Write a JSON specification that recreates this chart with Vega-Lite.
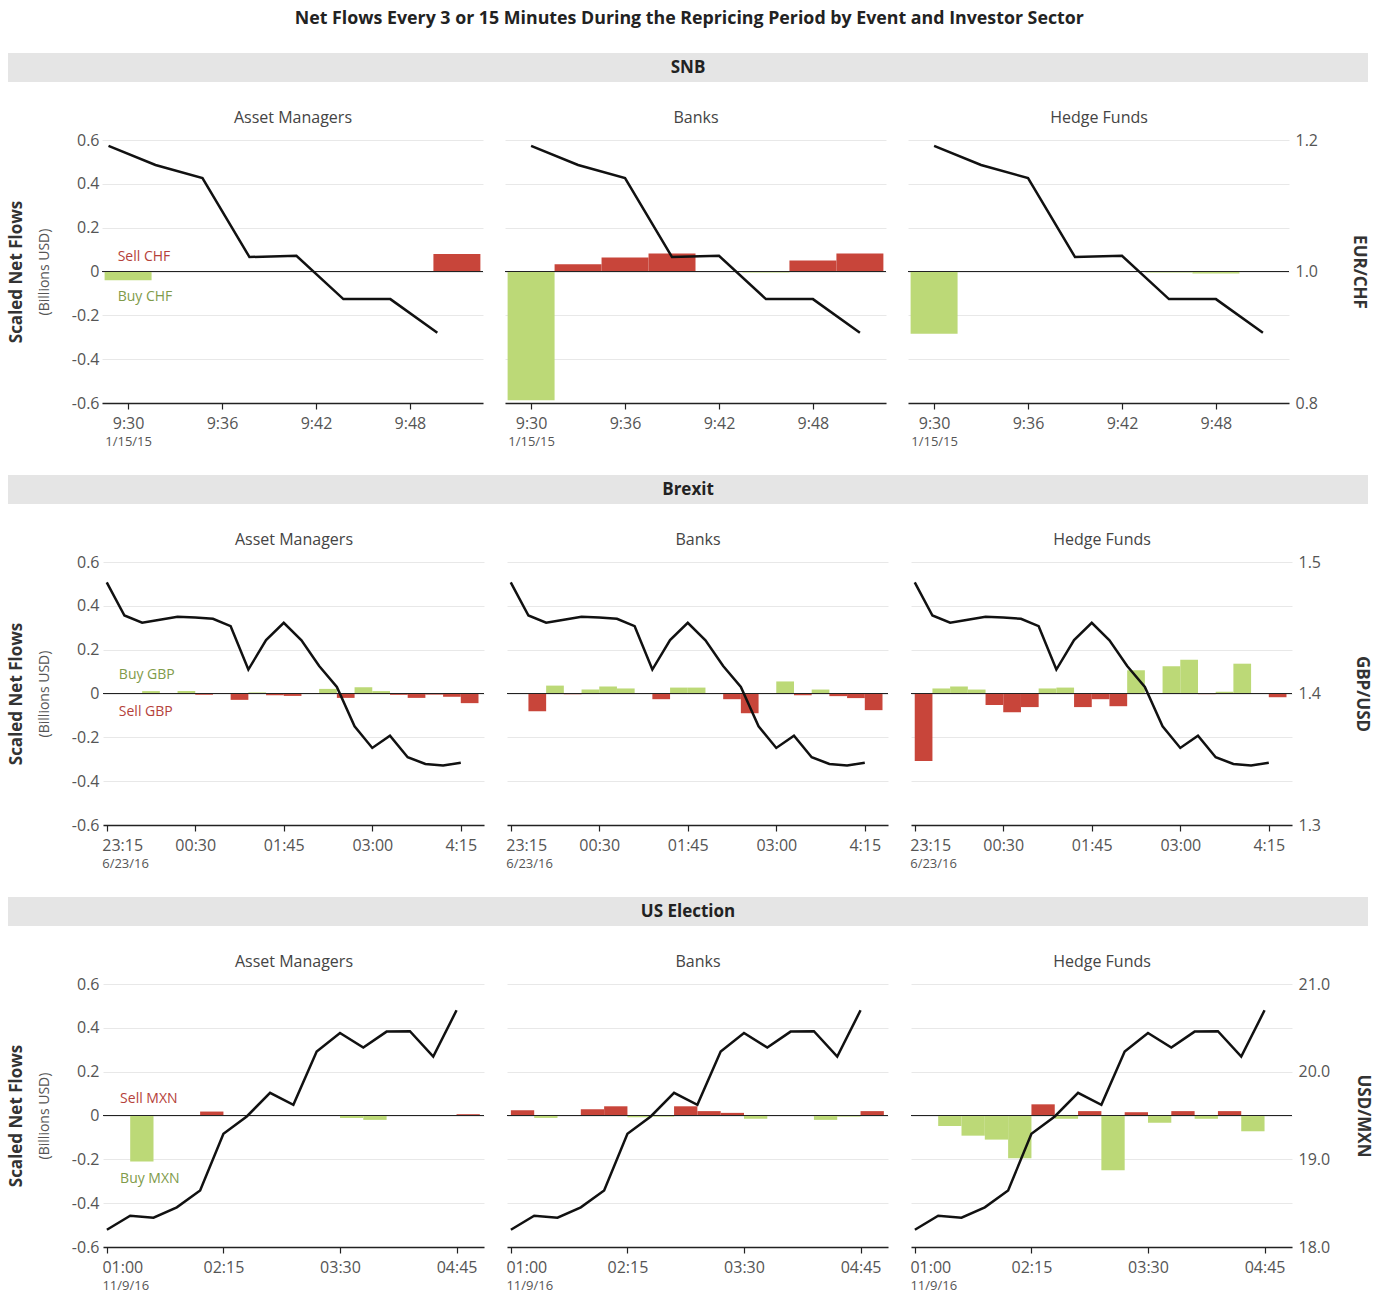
{
  "$schema": "https://vega.github.io/schema/vega-lite/v6.json",
  "padding": {"left": 7, "right": 17, "top": 10, "bottom": 0},
  "background": "white",
  "title": {"text": "Net Flows Every 3 or 15 Minutes During the Repricing Period by Event and Investor Sector", "fontSize": 17.8, "fontWeight": "bold", "color": "#222", "anchor": "middle", "baseline": "alphabetic", "offset": 11},
  "config": {
    "font": "Open Sans",
    "view": {"stroke": null},
    "axis": {"labelFont": "Open Sans", "titleFont": "Open Sans"},
    "title": {"font": "Open Sans"},
    "text": {"font": "Open Sans"}
  },
  "datasets": {
    "bars": [
      {"e": "SNB", "s": "Asset Managers", "t": "2015-01-15T09:28:30", "t2": "2015-01-15T09:31:30", "v": -0.04, "d": "Buy"},
      {"e": "SNB", "s": "Asset Managers", "t": "2015-01-15T09:49:30", "t2": "2015-01-15T09:52:30", "v": 0.08, "d": "Sell"},
      {"e": "SNB", "s": "Banks", "t": "2015-01-15T09:28:30", "t2": "2015-01-15T09:31:30", "v": -0.587, "d": "Buy"},
      {"e": "SNB", "s": "Banks", "t": "2015-01-15T09:31:30", "t2": "2015-01-15T09:34:30", "v": 0.033, "d": "Sell"},
      {"e": "SNB", "s": "Banks", "t": "2015-01-15T09:34:30", "t2": "2015-01-15T09:37:30", "v": 0.064, "d": "Sell"},
      {"e": "SNB", "s": "Banks", "t": "2015-01-15T09:37:30", "t2": "2015-01-15T09:40:30", "v": 0.082, "d": "Sell"},
      {"e": "SNB", "s": "Banks", "t": "2015-01-15T09:43:30", "t2": "2015-01-15T09:46:30", "v": -0.005, "d": "Buy"},
      {"e": "SNB", "s": "Banks", "t": "2015-01-15T09:46:30", "t2": "2015-01-15T09:49:30", "v": 0.05, "d": "Sell"},
      {"e": "SNB", "s": "Banks", "t": "2015-01-15T09:49:30", "t2": "2015-01-15T09:52:30", "v": 0.082, "d": "Sell"},
      {"e": "SNB", "s": "Hedge Funds", "t": "2015-01-15T09:28:30", "t2": "2015-01-15T09:31:30", "v": -0.284, "d": "Buy"},
      {"e": "SNB", "s": "Hedge Funds", "t": "2015-01-15T09:43:30", "t2": "2015-01-15T09:46:30", "v": -0.004, "d": "Buy"},
      {"e": "SNB", "s": "Hedge Funds", "t": "2015-01-15T09:46:30", "t2": "2015-01-15T09:49:30", "v": -0.009, "d": "Buy"},

      {"e": "Brexit", "s": "Asset Managers", "t": "2016-06-23T23:45:00", "t2": "2016-06-24T00:00:00", "v": 0.011, "d": "Buy"},
      {"e": "Brexit", "s": "Asset Managers", "t": "2016-06-24T00:15:00", "t2": "2016-06-24T00:30:00", "v": 0.011, "d": "Buy"},
      {"e": "Brexit", "s": "Asset Managers", "t": "2016-06-24T00:30:00", "t2": "2016-06-24T00:45:00", "v": -0.006, "d": "Sell"},
      {"e": "Brexit", "s": "Asset Managers", "t": "2016-06-24T01:00:00", "t2": "2016-06-24T01:15:00", "v": -0.029, "d": "Sell"},
      {"e": "Brexit", "s": "Asset Managers", "t": "2016-06-24T01:15:00", "t2": "2016-06-24T01:30:00", "v": 0.005, "d": "Buy"},
      {"e": "Brexit", "s": "Asset Managers", "t": "2016-06-24T01:30:00", "t2": "2016-06-24T01:45:00", "v": -0.008, "d": "Sell"},
      {"e": "Brexit", "s": "Asset Managers", "t": "2016-06-24T01:45:00", "t2": "2016-06-24T02:00:00", "v": -0.011, "d": "Sell"},
      {"e": "Brexit", "s": "Asset Managers", "t": "2016-06-24T02:15:00", "t2": "2016-06-24T02:30:00", "v": 0.021, "d": "Buy"},
      {"e": "Brexit", "s": "Asset Managers", "t": "2016-06-24T02:30:00", "t2": "2016-06-24T02:45:00", "v": -0.02, "d": "Sell"},
      {"e": "Brexit", "s": "Asset Managers", "t": "2016-06-24T02:45:00", "t2": "2016-06-24T03:00:00", "v": 0.029, "d": "Buy"},
      {"e": "Brexit", "s": "Asset Managers", "t": "2016-06-24T03:00:00", "t2": "2016-06-24T03:15:00", "v": 0.011, "d": "Buy"},
      {"e": "Brexit", "s": "Asset Managers", "t": "2016-06-24T03:15:00", "t2": "2016-06-24T03:30:00", "v": -0.006, "d": "Sell"},
      {"e": "Brexit", "s": "Asset Managers", "t": "2016-06-24T03:30:00", "t2": "2016-06-24T03:45:00", "v": -0.02, "d": "Sell"},
      {"e": "Brexit", "s": "Asset Managers", "t": "2016-06-24T03:45:00", "t2": "2016-06-24T04:00:00", "v": -0.005, "d": "Sell"},
      {"e": "Brexit", "s": "Asset Managers", "t": "2016-06-24T04:00:00", "t2": "2016-06-24T04:15:00", "v": -0.015, "d": "Sell"},
      {"e": "Brexit", "s": "Asset Managers", "t": "2016-06-24T04:15:00", "t2": "2016-06-24T04:30:00", "v": -0.044, "d": "Sell"},

      {"e": "Brexit", "s": "Banks", "t": "2016-06-23T23:30:00", "t2": "2016-06-23T23:45:00", "v": -0.081, "d": "Sell"},
      {"e": "Brexit", "s": "Banks", "t": "2016-06-23T23:45:00", "t2": "2016-06-24T00:00:00", "v": 0.036, "d": "Buy"},
      {"e": "Brexit", "s": "Banks", "t": "2016-06-24T00:00:00", "t2": "2016-06-24T00:15:00", "v": -0.003, "d": "Sell"},
      {"e": "Brexit", "s": "Banks", "t": "2016-06-24T00:15:00", "t2": "2016-06-24T00:30:00", "v": 0.018, "d": "Buy"},
      {"e": "Brexit", "s": "Banks", "t": "2016-06-24T00:30:00", "t2": "2016-06-24T00:45:00", "v": 0.032, "d": "Buy"},
      {"e": "Brexit", "s": "Banks", "t": "2016-06-24T00:45:00", "t2": "2016-06-24T01:00:00", "v": 0.023, "d": "Buy"},
      {"e": "Brexit", "s": "Banks", "t": "2016-06-24T01:15:00", "t2": "2016-06-24T01:30:00", "v": -0.026, "d": "Sell"},
      {"e": "Brexit", "s": "Banks", "t": "2016-06-24T01:30:00", "t2": "2016-06-24T01:45:00", "v": 0.027, "d": "Buy"},
      {"e": "Brexit", "s": "Banks", "t": "2016-06-24T01:45:00", "t2": "2016-06-24T02:00:00", "v": 0.027, "d": "Buy"},
      {"e": "Brexit", "s": "Banks", "t": "2016-06-24T02:15:00", "t2": "2016-06-24T02:30:00", "v": -0.026, "d": "Sell"},
      {"e": "Brexit", "s": "Banks", "t": "2016-06-24T02:30:00", "t2": "2016-06-24T02:45:00", "v": -0.09, "d": "Sell"},
      {"e": "Brexit", "s": "Banks", "t": "2016-06-24T03:00:00", "t2": "2016-06-24T03:15:00", "v": 0.055, "d": "Buy"},
      {"e": "Brexit", "s": "Banks", "t": "2016-06-24T03:15:00", "t2": "2016-06-24T03:30:00", "v": -0.008, "d": "Sell"},
      {"e": "Brexit", "s": "Banks", "t": "2016-06-24T03:30:00", "t2": "2016-06-24T03:45:00", "v": 0.018, "d": "Buy"},
      {"e": "Brexit", "s": "Banks", "t": "2016-06-24T03:45:00", "t2": "2016-06-24T04:00:00", "v": -0.012, "d": "Sell"},
      {"e": "Brexit", "s": "Banks", "t": "2016-06-24T04:00:00", "t2": "2016-06-24T04:15:00", "v": -0.021, "d": "Sell"},
      {"e": "Brexit", "s": "Banks", "t": "2016-06-24T04:15:00", "t2": "2016-06-24T04:30:00", "v": -0.076, "d": "Sell"},

      {"e": "Brexit", "s": "Hedge Funds", "t": "2016-06-23T23:15:00", "t2": "2016-06-23T23:30:00", "v": -0.308, "d": "Sell"},
      {"e": "Brexit", "s": "Hedge Funds", "t": "2016-06-23T23:30:00", "t2": "2016-06-23T23:45:00", "v": 0.023, "d": "Buy"},
      {"e": "Brexit", "s": "Hedge Funds", "t": "2016-06-23T23:45:00", "t2": "2016-06-24T00:00:00", "v": 0.032, "d": "Buy"},
      {"e": "Brexit", "s": "Hedge Funds", "t": "2016-06-24T00:00:00", "t2": "2016-06-24T00:15:00", "v": 0.018, "d": "Buy"},
      {"e": "Brexit", "s": "Hedge Funds", "t": "2016-06-24T00:15:00", "t2": "2016-06-24T00:30:00", "v": -0.053, "d": "Sell"},
      {"e": "Brexit", "s": "Hedge Funds", "t": "2016-06-24T00:30:00", "t2": "2016-06-24T00:45:00", "v": -0.085, "d": "Sell"},
      {"e": "Brexit", "s": "Hedge Funds", "t": "2016-06-24T00:45:00", "t2": "2016-06-24T01:00:00", "v": -0.062, "d": "Sell"},
      {"e": "Brexit", "s": "Hedge Funds", "t": "2016-06-24T01:00:00", "t2": "2016-06-24T01:15:00", "v": 0.023, "d": "Buy"},
      {"e": "Brexit", "s": "Hedge Funds", "t": "2016-06-24T01:15:00", "t2": "2016-06-24T01:30:00", "v": 0.027, "d": "Buy"},
      {"e": "Brexit", "s": "Hedge Funds", "t": "2016-06-24T01:30:00", "t2": "2016-06-24T01:45:00", "v": -0.062, "d": "Sell"},
      {"e": "Brexit", "s": "Hedge Funds", "t": "2016-06-24T01:45:00", "t2": "2016-06-24T02:00:00", "v": -0.026, "d": "Sell"},
      {"e": "Brexit", "s": "Hedge Funds", "t": "2016-06-24T02:00:00", "t2": "2016-06-24T02:15:00", "v": -0.058, "d": "Sell"},
      {"e": "Brexit", "s": "Hedge Funds", "t": "2016-06-24T02:15:00", "t2": "2016-06-24T02:30:00", "v": 0.106, "d": "Buy"},
      {"e": "Brexit", "s": "Hedge Funds", "t": "2016-06-24T02:45:00", "t2": "2016-06-24T03:00:00", "v": 0.124, "d": "Buy"},
      {"e": "Brexit", "s": "Hedge Funds", "t": "2016-06-24T03:00:00", "t2": "2016-06-24T03:15:00", "v": 0.154, "d": "Buy"},
      {"e": "Brexit", "s": "Hedge Funds", "t": "2016-06-24T03:15:00", "t2": "2016-06-24T03:30:00", "v": -0.003, "d": "Sell"},
      {"e": "Brexit", "s": "Hedge Funds", "t": "2016-06-24T03:30:00", "t2": "2016-06-24T03:45:00", "v": 0.008, "d": "Buy"},
      {"e": "Brexit", "s": "Hedge Funds", "t": "2016-06-24T03:45:00", "t2": "2016-06-24T04:00:00", "v": 0.136, "d": "Buy"},
      {"e": "Brexit", "s": "Hedge Funds", "t": "2016-06-24T04:15:00", "t2": "2016-06-24T04:30:00", "v": -0.017, "d": "Sell"},

      {"e": "US", "s": "Asset Managers", "t": "2016-11-09T01:15:00", "t2": "2016-11-09T01:30:00", "v": -0.21, "d": "Buy"},
      {"e": "US", "s": "Asset Managers", "t": "2016-11-09T02:00:00", "t2": "2016-11-09T02:15:00", "v": 0.018, "d": "Sell"},
      {"e": "US", "s": "Asset Managers", "t": "2016-11-09T03:30:00", "t2": "2016-11-09T03:45:00", "v": -0.011, "d": "Buy"},
      {"e": "US", "s": "Asset Managers", "t": "2016-11-09T03:45:00", "t2": "2016-11-09T04:00:00", "v": -0.02, "d": "Buy"},
      {"e": "US", "s": "Asset Managers", "t": "2016-11-09T04:45:00", "t2": "2016-11-09T05:00:00", "v": 0.006, "d": "Sell"},

      {"e": "US", "s": "Banks", "t": "2016-11-09T01:00:00", "t2": "2016-11-09T01:15:00", "v": 0.024, "d": "Sell"},
      {"e": "US", "s": "Banks", "t": "2016-11-09T01:15:00", "t2": "2016-11-09T01:30:00", "v": -0.011, "d": "Buy"},
      {"e": "US", "s": "Banks", "t": "2016-11-09T01:45:00", "t2": "2016-11-09T02:00:00", "v": 0.029, "d": "Sell"},
      {"e": "US", "s": "Banks", "t": "2016-11-09T02:00:00", "t2": "2016-11-09T02:15:00", "v": 0.042, "d": "Sell"},
      {"e": "US", "s": "Banks", "t": "2016-11-09T02:15:00", "t2": "2016-11-09T02:30:00", "v": -0.008, "d": "Buy"},
      {"e": "US", "s": "Banks", "t": "2016-11-09T02:30:00", "t2": "2016-11-09T02:45:00", "v": -0.005, "d": "Buy"},
      {"e": "US", "s": "Banks", "t": "2016-11-09T02:45:00", "t2": "2016-11-09T03:00:00", "v": 0.042, "d": "Sell"},
      {"e": "US", "s": "Banks", "t": "2016-11-09T03:00:00", "t2": "2016-11-09T03:15:00", "v": 0.02, "d": "Sell"},
      {"e": "US", "s": "Banks", "t": "2016-11-09T03:15:00", "t2": "2016-11-09T03:30:00", "v": 0.012, "d": "Sell"},
      {"e": "US", "s": "Banks", "t": "2016-11-09T03:30:00", "t2": "2016-11-09T03:45:00", "v": -0.015, "d": "Buy"},
      {"e": "US", "s": "Banks", "t": "2016-11-09T04:15:00", "t2": "2016-11-09T04:30:00", "v": -0.02, "d": "Buy"},
      {"e": "US", "s": "Banks", "t": "2016-11-09T04:30:00", "t2": "2016-11-09T04:45:00", "v": -0.005, "d": "Buy"},
      {"e": "US", "s": "Banks", "t": "2016-11-09T04:45:00", "t2": "2016-11-09T05:00:00", "v": 0.02, "d": "Sell"},

      {"e": "US", "s": "Hedge Funds", "t": "2016-11-09T01:15:00", "t2": "2016-11-09T01:30:00", "v": -0.048, "d": "Buy"},
      {"e": "US", "s": "Hedge Funds", "t": "2016-11-09T01:30:00", "t2": "2016-11-09T01:45:00", "v": -0.092, "d": "Buy"},
      {"e": "US", "s": "Hedge Funds", "t": "2016-11-09T01:45:00", "t2": "2016-11-09T02:00:00", "v": -0.11, "d": "Buy"},
      {"e": "US", "s": "Hedge Funds", "t": "2016-11-09T02:00:00", "t2": "2016-11-09T02:15:00", "v": -0.195, "d": "Buy"},
      {"e": "US", "s": "Hedge Funds", "t": "2016-11-09T02:15:00", "t2": "2016-11-09T02:30:00", "v": 0.051, "d": "Sell"},
      {"e": "US", "s": "Hedge Funds", "t": "2016-11-09T02:30:00", "t2": "2016-11-09T02:45:00", "v": -0.015, "d": "Buy"},
      {"e": "US", "s": "Hedge Funds", "t": "2016-11-09T02:45:00", "t2": "2016-11-09T03:00:00", "v": 0.02, "d": "Sell"},
      {"e": "US", "s": "Hedge Funds", "t": "2016-11-09T03:00:00", "t2": "2016-11-09T03:15:00", "v": -0.25, "d": "Buy"},
      {"e": "US", "s": "Hedge Funds", "t": "2016-11-09T03:15:00", "t2": "2016-11-09T03:30:00", "v": 0.015, "d": "Sell"},
      {"e": "US", "s": "Hedge Funds", "t": "2016-11-09T03:30:00", "t2": "2016-11-09T03:45:00", "v": -0.033, "d": "Buy"},
      {"e": "US", "s": "Hedge Funds", "t": "2016-11-09T03:45:00", "t2": "2016-11-09T04:00:00", "v": 0.02, "d": "Sell"},
      {"e": "US", "s": "Hedge Funds", "t": "2016-11-09T04:00:00", "t2": "2016-11-09T04:15:00", "v": -0.015, "d": "Buy"},
      {"e": "US", "s": "Hedge Funds", "t": "2016-11-09T04:15:00", "t2": "2016-11-09T04:30:00", "v": 0.02, "d": "Sell"},
      {"e": "US", "s": "Hedge Funds", "t": "2016-11-09T04:30:00", "t2": "2016-11-09T04:45:00", "v": -0.072, "d": "Buy"}
    ],
    "rates": [
      {"e": "SNB", "s": "Asset Managers", "t": "2015-01-15T09:28:45", "r": 1.191},
      {"e": "SNB", "s": "Asset Managers", "t": "2015-01-15T09:31:45", "r": 1.162},
      {"e": "SNB", "s": "Asset Managers", "t": "2015-01-15T09:34:45", "r": 1.142},
      {"e": "SNB", "s": "Asset Managers", "t": "2015-01-15T09:37:45", "r": 1.022},
      {"e": "SNB", "s": "Asset Managers", "t": "2015-01-15T09:40:45", "r": 1.024},
      {"e": "SNB", "s": "Asset Managers", "t": "2015-01-15T09:43:45", "r": 0.958},
      {"e": "SNB", "s": "Asset Managers", "t": "2015-01-15T09:46:45", "r": 0.958},
      {"e": "SNB", "s": "Asset Managers", "t": "2015-01-15T09:49:45", "r": 0.907},
      {"e": "SNB", "s": "Banks", "t": "2015-01-15T09:30:00", "r": 1.191},
      {"e": "SNB", "s": "Banks", "t": "2015-01-15T09:33:00", "r": 1.162},
      {"e": "SNB", "s": "Banks", "t": "2015-01-15T09:36:00", "r": 1.142},
      {"e": "SNB", "s": "Banks", "t": "2015-01-15T09:39:00", "r": 1.022},
      {"e": "SNB", "s": "Banks", "t": "2015-01-15T09:42:00", "r": 1.024},
      {"e": "SNB", "s": "Banks", "t": "2015-01-15T09:45:00", "r": 0.958},
      {"e": "SNB", "s": "Banks", "t": "2015-01-15T09:48:00", "r": 0.958},
      {"e": "SNB", "s": "Banks", "t": "2015-01-15T09:51:00", "r": 0.907},
      {"e": "SNB", "s": "Hedge Funds", "t": "2015-01-15T09:30:00", "r": 1.191},
      {"e": "SNB", "s": "Hedge Funds", "t": "2015-01-15T09:33:00", "r": 1.162},
      {"e": "SNB", "s": "Hedge Funds", "t": "2015-01-15T09:36:00", "r": 1.142},
      {"e": "SNB", "s": "Hedge Funds", "t": "2015-01-15T09:39:00", "r": 1.022},
      {"e": "SNB", "s": "Hedge Funds", "t": "2015-01-15T09:42:00", "r": 1.024},
      {"e": "SNB", "s": "Hedge Funds", "t": "2015-01-15T09:45:00", "r": 0.958},
      {"e": "SNB", "s": "Hedge Funds", "t": "2015-01-15T09:48:00", "r": 0.958},
      {"e": "SNB", "s": "Hedge Funds", "t": "2015-01-15T09:51:00", "r": 0.907},
      {"e": "Brexit", "s": "All", "t": "2016-06-23T23:15:00", "r": 1.4845},
      {"e": "Brexit", "s": "All", "t": "2016-06-23T23:30:00", "r": 1.4593},
      {"e": "Brexit", "s": "All", "t": "2016-06-23T23:45:00", "r": 1.4538},
      {"e": "Brexit", "s": "All", "t": "2016-06-24T00:00:00", "r": 1.4561},
      {"e": "Brexit", "s": "All", "t": "2016-06-24T00:15:00", "r": 1.4583},
      {"e": "Brexit", "s": "All", "t": "2016-06-24T00:30:00", "r": 1.4578},
      {"e": "Brexit", "s": "All", "t": "2016-06-24T00:45:00", "r": 1.4568},
      {"e": "Brexit", "s": "All", "t": "2016-06-24T01:00:00", "r": 1.4512},
      {"e": "Brexit", "s": "All", "t": "2016-06-24T01:15:00", "r": 1.4182},
      {"e": "Brexit", "s": "All", "t": "2016-06-24T01:30:00", "r": 1.4406},
      {"e": "Brexit", "s": "All", "t": "2016-06-24T01:45:00", "r": 1.4538},
      {"e": "Brexit", "s": "All", "t": "2016-06-24T02:00:00", "r": 1.4404},
      {"e": "Brexit", "s": "All", "t": "2016-06-24T02:15:00", "r": 1.4209},
      {"e": "Brexit", "s": "All", "t": "2016-06-24T02:30:00", "r": 1.405},
      {"e": "Brexit", "s": "All", "t": "2016-06-24T02:45:00", "r": 1.375},
      {"e": "Brexit", "s": "All", "t": "2016-06-24T03:00:00", "r": 1.3586},
      {"e": "Brexit", "s": "All", "t": "2016-06-24T03:15:00", "r": 1.3679},
      {"e": "Brexit", "s": "All", "t": "2016-06-24T03:30:00", "r": 1.3515},
      {"e": "Brexit", "s": "All", "t": "2016-06-24T03:45:00", "r": 1.3464},
      {"e": "Brexit", "s": "All", "t": "2016-06-24T04:00:00", "r": 1.3452},
      {"e": "Brexit", "s": "All", "t": "2016-06-24T04:15:00", "r": 1.3474},
      {"e": "US", "s": "All", "t": "2016-11-09T01:00:00", "r": 18.197},
      {"e": "US", "s": "All", "t": "2016-11-09T01:15:00", "r": 18.357},
      {"e": "US", "s": "All", "t": "2016-11-09T01:30:00", "r": 18.334},
      {"e": "US", "s": "All", "t": "2016-11-09T01:45:00", "r": 18.452},
      {"e": "US", "s": "All", "t": "2016-11-09T02:00:00", "r": 18.645},
      {"e": "US", "s": "All", "t": "2016-11-09T02:15:00", "r": 19.291},
      {"e": "US", "s": "All", "t": "2016-11-09T02:30:00", "r": 19.489},
      {"e": "US", "s": "All", "t": "2016-11-09T02:45:00", "r": 19.758},
      {"e": "US", "s": "All", "t": "2016-11-09T03:00:00", "r": 19.622},
      {"e": "US", "s": "All", "t": "2016-11-09T03:15:00", "r": 20.229},
      {"e": "US", "s": "All", "t": "2016-11-09T03:30:00", "r": 20.442},
      {"e": "US", "s": "All", "t": "2016-11-09T03:45:00", "r": 20.275},
      {"e": "US", "s": "All", "t": "2016-11-09T04:00:00", "r": 20.457},
      {"e": "US", "s": "All", "t": "2016-11-09T04:15:00", "r": 20.461},
      {"e": "US", "s": "All", "t": "2016-11-09T04:30:00", "r": 20.172},
      {"e": "US", "s": "All", "t": "2016-11-09T04:45:00", "r": 20.7}
    ],
    "notes": [
      {"e": "SNB", "t": "2015-01-15T09:29:20", "v": 0.065, "label": "Sell CHF", "d": "Sell"},
      {"e": "SNB", "t": "2015-01-15T09:29:20", "v": -0.115, "label": "Buy CHF", "d": "Buy"},
      {"e": "Brexit", "t": "2016-06-23T23:25:15", "v": 0.083, "label": "Buy GBP", "d": "Buy"},
      {"e": "Brexit", "t": "2016-06-23T23:25:15", "v": -0.084, "label": "Sell GBP", "d": "Sell"},
      {"e": "US", "t": "2016-11-09T01:08:30", "v": 0.076, "label": "Sell MXN", "d": "Sell"},
      {"e": "US", "t": "2016-11-09T01:08:30", "v": -0.289, "label": "Buy MXN", "d": "Buy"}
    ]
  },
  "spacing": 27,
  "vconcat": [
    {"width": 1360, "height": 29, "data": {"values": [{"event": "SNB"}]}, "mark": {"type": "text", "fontSize": 17, "fontWeight": "bold", "color": "#222"}, "encoding": {"text": {"field": "event"}}, "view": {"fill": "#e5e5e5", "stroke": null}},
    {
      "spacing": 0,
      "hconcat": [
        {
          "width": 93, "height": 263,
          "layer": [
            {"data": {"values": [{}]}, "mark": {"type": "rule", "opacity": 0}, "encoding": {
              "x": {"datum": 0, "type": "quantitative", "scale": {"domain": [0, 1]}, "axis": null},
              "x2": {"datum": 1},
              "y": {"datum": 0, "type": "quantitative", "scale": {"domain": [-0.6, 0.6], "nice": false},
              "axis": {"orient": "left", "offset": -93, "values": [-0.6, -0.4, -0.2, 0, 0.2, 0.4, 0.6], "labelExpr": "(datum.value < 0 ? '-' : '') + format(abs(datum.value), '~g')", "title": "(Billions USD)", "titleFontSize": 14, "titleFontWeight": "normal", "titleColor": "#555", "titlePadding": 20, "grid": false, "ticks": false, "domain": false, "labelFontSize": 16, "labelColor": "#555", "labelPadding": 2}}}},
            {"data": {"values": [{}]}, "mark": {"type": "rule", "opacity": 0}, "encoding": {
              "x": {"datum": 0, "type": "quantitative", "axis": null},
              "x2": {"datum": 1},
              "y": {"datum": 0, "type": "quantitative", "scale": {"domain": [-0.6, 0.6], "nice": false},
              "axis": {"orient": "left", "offset": -93, "title": "Scaled Net Flows", "titleFontSize": 17, "titleFontWeight": "bold", "titleColor": "#333", "titlePadding": 76, "labels": false, "ticks": false, "domain": false, "grid": false}}}}
          ],
          "resolve": {"scale": {"y": "independent"}, "axis": {"y": "independent"}}
        },
        {
          "spacing": 20,
          "hconcat": [
            {
              "width": 381, "height": 263,
              "layer": [
                {"data": {"name": "bars"}, "transform": [{"filter": "datum.e=='SNB' && datum.s=='Asset Managers'"}], "mark": {"type": "bar"},
                 "encoding": {
                   "x": {"field": "t", "type": "temporal", "scale": {"domain": [{"year": 2015, "month": 1, "date": 15, "hours": 9, "minutes": 28, "seconds": 20}, {"year": 2015, "month": 1, "date": 15, "hours": 9, "minutes": 52, "seconds": 40}]},
                         "axis": {"orient": "bottom", "values": [{"year": 2015, "month": 1, "date": 15, "hours": 9, "minutes": 30}, {"year": 2015, "month": 1, "date": 15, "hours": 9, "minutes": 36}, {"year": 2015, "month": 1, "date": 15, "hours": 9, "minutes": 42}, {"year": 2015, "month": 1, "date": 15, "hours": 9, "minutes": 48}], "format": "%-H:%M", "title": null, "grid": false, "domainColor": "#222", "domainWidth": 1.5, "tickColor": "#222", "tickSize": 6, "tickWidth": 1.2, "labelFontSize": 16, "labelColor": "#555", "labelPadding": 6, "labelFlush": 10, "labelFlushOffset": 5}},
                   "x2": {"field": "t2"},
                   "y": {"field": "v", "type": "quantitative", "scale": {"domain": [-0.6, 0.6], "nice": false},
                         "axis": {"orient": "left", "values": [-0.6, -0.4, -0.2, 0, 0.2, 0.4, 0.6], "title": null, "grid": true, "gridColor": "#e8e8e8", "ticks": false, "domain": false, "labels": false}},
                   "y2": {"datum": 0},
                   "color": {"field": "d", "type": "nominal", "scale": {"domain": ["Sell", "Buy"], "range": ["#c8453a", "#bcd977"]}, "legend": null}
                 }},
                {"data": {"values": [{}]}, "mark": {"type": "rule", "color": "#222", "strokeWidth": 1},
                 "encoding": {
                   "x": {"datum": {"year": 2015, "month": 1, "date": 15, "hours": 9, "minutes": 28, "seconds": 20}, "type": "temporal", "axis": {"orient": "top", "title": "Asset Managers", "titleFontSize": 16, "titleFontWeight": "normal", "titleColor": "#444", "titlePadding": 15, "labels": false, "ticks": false, "domain": false, "grid": false}},
                   "x2": {"datum": {"year": 2015, "month": 1, "date": 15, "hours": 9, "minutes": 52, "seconds": 40}},
                   "y": {"datum": 0, "type": "quantitative", "scale": {"domain": [-0.6, 0.6], "nice": false}, "axis": null}}},
                {"data": {"name": "notes"}, "transform": [{"filter": "datum.e=='SNB'"}], "mark": {"type": "text", "align": "left", "baseline": "middle", "fontSize": 14},
                 "encoding": {"x": {"field": "t", "type": "temporal", "axis": null}, "y": {"field": "v", "type": "quantitative", "scale": {"domain": [-0.6, 0.6], "nice": false}, "axis": null}, "text": {"field": "label"}, "color": {"condition": {"test": "datum.d=='Sell'", "value": "#b5413a"}, "value": "#7f9b4a"}}},
                {"data": {"name": "rates"}, "transform": [{"filter": "datum.e=='SNB' && datum.s=='Asset Managers'"}], "mark": {"type": "line", "color": "#111", "strokeWidth": 2.5},
                 "encoding": {"x": {"field": "t", "type": "temporal", "axis": {"orient": "bottom", "values": [{"year": 2015, "month": 1, "date": 15, "hours": 9, "minutes": 30}], "labelExpr": "'1/15/15'", "title": null, "grid": false, "domain": false, "ticks": false, "labelFontSize": 13, "labelColor": "#555", "labelPadding": 32, "labelFlush": 10, "labelFlushOffset": 5}},
                   "y": {"field": "r", "type": "quantitative", "scale": {"domain": [0.8, 1.2], "nice": false, "zero": false}, "axis": null}}}
              ],
              "resolve": {"scale": {"y": "independent"}, "axis": {"x": "independent", "y": "independent"}}
            },
            {
              "width": 381, "height": 263,
              "layer": [
                {"data": {"name": "bars"}, "transform": [{"filter": "datum.e=='SNB' && datum.s=='Banks'"}], "mark": {"type": "bar"},
                 "encoding": {
                   "x": {"field": "t", "type": "temporal", "scale": {"domain": [{"year": 2015, "month": 1, "date": 15, "hours": 9, "minutes": 28, "seconds": 20}, {"year": 2015, "month": 1, "date": 15, "hours": 9, "minutes": 52, "seconds": 40}]},
                         "axis": {"orient": "bottom", "values": [{"year": 2015, "month": 1, "date": 15, "hours": 9, "minutes": 30}, {"year": 2015, "month": 1, "date": 15, "hours": 9, "minutes": 36}, {"year": 2015, "month": 1, "date": 15, "hours": 9, "minutes": 42}, {"year": 2015, "month": 1, "date": 15, "hours": 9, "minutes": 48}], "format": "%-H:%M", "title": null, "grid": false, "domainColor": "#222", "domainWidth": 1.5, "tickColor": "#222", "tickSize": 6, "tickWidth": 1.2, "labelFontSize": 16, "labelColor": "#555", "labelPadding": 6, "labelFlush": 10, "labelFlushOffset": 5}},
                   "x2": {"field": "t2"},
                   "y": {"field": "v", "type": "quantitative", "scale": {"domain": [-0.6, 0.6], "nice": false},
                         "axis": {"orient": "left", "values": [-0.6, -0.4, -0.2, 0, 0.2, 0.4, 0.6], "title": null, "grid": true, "gridColor": "#e8e8e8", "ticks": false, "domain": false, "labels": false}},
                   "y2": {"datum": 0},
                   "color": {"field": "d", "type": "nominal", "scale": {"domain": ["Sell", "Buy"], "range": ["#c8453a", "#bcd977"]}, "legend": null}
                 }},
                {"data": {"values": [{}]}, "mark": {"type": "rule", "color": "#222", "strokeWidth": 1},
                 "encoding": {
                   "x": {"datum": {"year": 2015, "month": 1, "date": 15, "hours": 9, "minutes": 28, "seconds": 20}, "type": "temporal", "axis": {"orient": "top", "title": "Banks", "titleFontSize": 16, "titleFontWeight": "normal", "titleColor": "#444", "titlePadding": 15, "labels": false, "ticks": false, "domain": false, "grid": false}},
                   "x2": {"datum": {"year": 2015, "month": 1, "date": 15, "hours": 9, "minutes": 52, "seconds": 40}},
                   "y": {"datum": 0, "type": "quantitative", "scale": {"domain": [-0.6, 0.6], "nice": false}, "axis": null}}},
                {"data": {"name": "rates"}, "transform": [{"filter": "datum.e=='SNB' && datum.s=='Banks'"}], "mark": {"type": "line", "color": "#111", "strokeWidth": 2.5},
                 "encoding": {"x": {"field": "t", "type": "temporal", "axis": {"orient": "bottom", "values": [{"year": 2015, "month": 1, "date": 15, "hours": 9, "minutes": 30}], "labelExpr": "'1/15/15'", "title": null, "grid": false, "domain": false, "ticks": false, "labelFontSize": 13, "labelColor": "#555", "labelPadding": 32, "labelFlush": 10, "labelFlushOffset": 5}},
                   "y": {"field": "r", "type": "quantitative", "scale": {"domain": [0.8, 1.2], "nice": false, "zero": false}, "axis": null}}}
              ],
              "resolve": {"scale": {"y": "independent"}, "axis": {"x": "independent", "y": "independent"}}
            },
            {
              "width": 381, "height": 263,
              "layer": [
                {"data": {"name": "bars"}, "transform": [{"filter": "datum.e=='SNB' && datum.s=='Hedge Funds'"}], "mark": {"type": "bar"},
                 "encoding": {
                   "x": {"field": "t", "type": "temporal", "scale": {"domain": [{"year": 2015, "month": 1, "date": 15, "hours": 9, "minutes": 28, "seconds": 20}, {"year": 2015, "month": 1, "date": 15, "hours": 9, "minutes": 52, "seconds": 40}]},
                         "axis": {"orient": "bottom", "values": [{"year": 2015, "month": 1, "date": 15, "hours": 9, "minutes": 30}, {"year": 2015, "month": 1, "date": 15, "hours": 9, "minutes": 36}, {"year": 2015, "month": 1, "date": 15, "hours": 9, "minutes": 42}, {"year": 2015, "month": 1, "date": 15, "hours": 9, "minutes": 48}], "format": "%-H:%M", "title": null, "grid": false, "domainColor": "#222", "domainWidth": 1.5, "tickColor": "#222", "tickSize": 6, "tickWidth": 1.2, "labelFontSize": 16, "labelColor": "#555", "labelPadding": 6, "labelFlush": 10, "labelFlushOffset": 5}},
                   "x2": {"field": "t2"},
                   "y": {"field": "v", "type": "quantitative", "scale": {"domain": [-0.6, 0.6], "nice": false},
                         "axis": {"orient": "left", "values": [-0.6, -0.4, -0.2, 0, 0.2, 0.4, 0.6], "title": null, "grid": true, "gridColor": "#e8e8e8", "ticks": false, "domain": false, "labels": false}},
                   "y2": {"datum": 0},
                   "color": {"field": "d", "type": "nominal", "scale": {"domain": ["Sell", "Buy"], "range": ["#c8453a", "#bcd977"]}, "legend": null}
                 }},
                {"data": {"values": [{}]}, "mark": {"type": "rule", "color": "#222", "strokeWidth": 1},
                 "encoding": {
                   "x": {"datum": {"year": 2015, "month": 1, "date": 15, "hours": 9, "minutes": 28, "seconds": 20}, "type": "temporal", "axis": {"orient": "top", "title": "Hedge Funds", "titleFontSize": 16, "titleFontWeight": "normal", "titleColor": "#444", "titlePadding": 15, "labels": false, "ticks": false, "domain": false, "grid": false}},
                   "x2": {"datum": {"year": 2015, "month": 1, "date": 15, "hours": 9, "minutes": 52, "seconds": 40}},
                   "y": {"datum": 0, "type": "quantitative", "scale": {"domain": [-0.6, 0.6], "nice": false}, "axis": null}}},
                {"data": {"name": "rates"}, "transform": [{"filter": "datum.e=='SNB' && datum.s=='Hedge Funds'"}], "mark": {"type": "line", "color": "#111", "strokeWidth": 2.5},
                 "encoding": {"x": {"field": "t", "type": "temporal", "axis": {"orient": "bottom", "values": [{"year": 2015, "month": 1, "date": 15, "hours": 9, "minutes": 30}], "labelExpr": "'1/15/15'", "title": null, "grid": false, "domain": false, "ticks": false, "labelFontSize": 13, "labelColor": "#555", "labelPadding": 32, "labelFlush": 10, "labelFlushOffset": 5}},
                   "y": {"field": "r", "type": "quantitative", "scale": {"domain": [0.8, 1.2], "nice": false, "zero": false},
                         "axis": {"orient": "right", "values": [0.8, 1.0, 1.2], "format": ".1f", "title": "EUR/CHF", "grid": false, "ticks": false, "domain": false, "labelFontSize": 16, "labelColor": "#555", "labelPadding": 6, "titleFontSize": 17, "titleFontWeight": "bold", "titleColor": "#333", "titlePadding": 32}}}}
              ],
              "resolve": {"scale": {"y": "independent"}, "axis": {"x": "independent", "y": "independent"}}
            }
          ]
        }
      ]
    },
    {"width": 1360, "height": 29, "data": {"values": [{"event": "Brexit"}]}, "mark": {"type": "text", "fontSize": 17, "fontWeight": "bold", "color": "#222"}, "encoding": {"text": {"field": "event"}}, "view": {"fill": "#e5e5e5", "stroke": null}},
    {
      "spacing": 0,
      "hconcat": [
        {
          "width": 93, "height": 263,
          "layer": [
            {"data": {"values": [{}]}, "mark": {"type": "rule", "opacity": 0}, "encoding": {
              "x": {"datum": 0, "type": "quantitative", "scale": {"domain": [0, 1]}, "axis": null},
              "x2": {"datum": 1},
              "y": {"datum": 0, "type": "quantitative", "scale": {"domain": [-0.6, 0.6], "nice": false},
              "axis": {"orient": "left", "offset": -93, "values": [-0.6, -0.4, -0.2, 0, 0.2, 0.4, 0.6], "labelExpr": "(datum.value < 0 ? '-' : '') + format(abs(datum.value), '~g')", "title": "(Billions USD)", "titleFontSize": 14, "titleFontWeight": "normal", "titleColor": "#555", "titlePadding": 20, "grid": false, "ticks": false, "domain": false, "labelFontSize": 16, "labelColor": "#555", "labelPadding": 2}}}},
            {"data": {"values": [{}]}, "mark": {"type": "rule", "opacity": 0}, "encoding": {
              "x": {"datum": 0, "type": "quantitative", "axis": null},
              "x2": {"datum": 1},
              "y": {"datum": 0, "type": "quantitative", "scale": {"domain": [-0.6, 0.6], "nice": false},
              "axis": {"orient": "left", "offset": -93, "title": "Scaled Net Flows", "titleFontSize": 17, "titleFontWeight": "bold", "titleColor": "#333", "titlePadding": 76, "labels": false, "ticks": false, "domain": false, "grid": false}}}}
          ],
          "resolve": {"scale": {"y": "independent"}, "axis": {"y": "independent"}}
        },
        {
          "spacing": 20,
          "hconcat": [
            {
              "width": 381, "height": 263,
              "layer": [
                {"data": {"name": "bars"}, "transform": [{"filter": "datum.e=='Brexit' && datum.s=='Asset Managers'"}], "mark": {"type": "bar"},
                 "encoding": {
                   "x": {"field": "t", "type": "temporal", "scale": {"domain": [{"year": 2016, "month": 6, "date": 23, "hours": 23, "minutes": 11, "seconds": 50}, {"year": 2016, "month": 6, "date": 24, "hours": 4, "minutes": 34, "seconds": 40}]},
                         "axis": {"orient": "bottom", "values": [{"year": 2016, "month": 6, "date": 23, "hours": 23, "minutes": 15}, {"year": 2016, "month": 6, "date": 24, "hours": 0, "minutes": 30}, {"year": 2016, "month": 6, "date": 24, "hours": 1, "minutes": 45}, {"year": 2016, "month": 6, "date": 24, "hours": 3, "minutes": 0}, {"year": 2016, "month": 6, "date": 24, "hours": 4, "minutes": 15}], "labelExpr": "hours(datum.value) == 4 ? timeFormat(datum.value, '%-H:%M') : timeFormat(datum.value, '%H:%M')", "title": null, "grid": false, "domainColor": "#222", "domainWidth": 1.5, "tickColor": "#222", "tickSize": 6, "tickWidth": 1.2, "labelFontSize": 16, "labelColor": "#555", "labelPadding": 6, "labelFlush": 10, "labelFlushOffset": 5}},
                   "x2": {"field": "t2"},
                   "y": {"field": "v", "type": "quantitative", "scale": {"domain": [-0.6, 0.6], "nice": false},
                         "axis": {"orient": "left", "values": [-0.6, -0.4, -0.2, 0, 0.2, 0.4, 0.6], "title": null, "grid": true, "gridColor": "#e8e8e8", "ticks": false, "domain": false, "labels": false}},
                   "y2": {"datum": 0},
                   "color": {"field": "d", "type": "nominal", "scale": {"domain": ["Sell", "Buy"], "range": ["#c8453a", "#bcd977"]}, "legend": null}
                 }},
                {"data": {"values": [{}]}, "mark": {"type": "rule", "color": "#222", "strokeWidth": 1},
                 "encoding": {
                   "x": {"datum": {"year": 2016, "month": 6, "date": 23, "hours": 23, "minutes": 11, "seconds": 50}, "type": "temporal", "axis": {"orient": "top", "title": "Asset Managers", "titleFontSize": 16, "titleFontWeight": "normal", "titleColor": "#444", "titlePadding": 15, "labels": false, "ticks": false, "domain": false, "grid": false}},
                   "x2": {"datum": {"year": 2016, "month": 6, "date": 24, "hours": 4, "minutes": 34, "seconds": 40}},
                   "y": {"datum": 0, "type": "quantitative", "scale": {"domain": [-0.6, 0.6], "nice": false}, "axis": null}}},
                {"data": {"name": "notes"}, "transform": [{"filter": "datum.e=='Brexit'"}], "mark": {"type": "text", "align": "left", "baseline": "middle", "fontSize": 14},
                 "encoding": {"x": {"field": "t", "type": "temporal", "axis": null}, "y": {"field": "v", "type": "quantitative", "scale": {"domain": [-0.6, 0.6], "nice": false}, "axis": null}, "text": {"field": "label"}, "color": {"condition": {"test": "datum.d=='Sell'", "value": "#b5413a"}, "value": "#7f9b4a"}}},
                {"data": {"name": "rates"}, "transform": [{"filter": "datum.e=='Brexit'"}], "mark": {"type": "line", "color": "#111", "strokeWidth": 2.5},
                 "encoding": {"x": {"field": "t", "type": "temporal", "axis": {"orient": "bottom", "values": [{"year": 2016, "month": 6, "date": 23, "hours": 23, "minutes": 15}], "labelExpr": "'6/23/16'", "title": null, "grid": false, "domain": false, "ticks": false, "labelFontSize": 13, "labelColor": "#555", "labelPadding": 32, "labelFlush": 10, "labelFlushOffset": 5}},
                   "y": {"field": "r", "type": "quantitative", "scale": {"domain": [1.3, 1.5], "nice": false, "zero": false}, "axis": null}}}
              ],
              "resolve": {"scale": {"y": "independent"}, "axis": {"x": "independent", "y": "independent"}}
            },
            {
              "width": 381, "height": 263,
              "layer": [
                {"data": {"name": "bars"}, "transform": [{"filter": "datum.e=='Brexit' && datum.s=='Banks'"}], "mark": {"type": "bar"},
                 "encoding": {
                   "x": {"field": "t", "type": "temporal", "scale": {"domain": [{"year": 2016, "month": 6, "date": 23, "hours": 23, "minutes": 11, "seconds": 50}, {"year": 2016, "month": 6, "date": 24, "hours": 4, "minutes": 34, "seconds": 40}]},
                         "axis": {"orient": "bottom", "values": [{"year": 2016, "month": 6, "date": 23, "hours": 23, "minutes": 15}, {"year": 2016, "month": 6, "date": 24, "hours": 0, "minutes": 30}, {"year": 2016, "month": 6, "date": 24, "hours": 1, "minutes": 45}, {"year": 2016, "month": 6, "date": 24, "hours": 3, "minutes": 0}, {"year": 2016, "month": 6, "date": 24, "hours": 4, "minutes": 15}], "labelExpr": "hours(datum.value) == 4 ? timeFormat(datum.value, '%-H:%M') : timeFormat(datum.value, '%H:%M')", "title": null, "grid": false, "domainColor": "#222", "domainWidth": 1.5, "tickColor": "#222", "tickSize": 6, "tickWidth": 1.2, "labelFontSize": 16, "labelColor": "#555", "labelPadding": 6, "labelFlush": 10, "labelFlushOffset": 5}},
                   "x2": {"field": "t2"},
                   "y": {"field": "v", "type": "quantitative", "scale": {"domain": [-0.6, 0.6], "nice": false},
                         "axis": {"orient": "left", "values": [-0.6, -0.4, -0.2, 0, 0.2, 0.4, 0.6], "title": null, "grid": true, "gridColor": "#e8e8e8", "ticks": false, "domain": false, "labels": false}},
                   "y2": {"datum": 0},
                   "color": {"field": "d", "type": "nominal", "scale": {"domain": ["Sell", "Buy"], "range": ["#c8453a", "#bcd977"]}, "legend": null}
                 }},
                {"data": {"values": [{}]}, "mark": {"type": "rule", "color": "#222", "strokeWidth": 1},
                 "encoding": {
                   "x": {"datum": {"year": 2016, "month": 6, "date": 23, "hours": 23, "minutes": 11, "seconds": 50}, "type": "temporal", "axis": {"orient": "top", "title": "Banks", "titleFontSize": 16, "titleFontWeight": "normal", "titleColor": "#444", "titlePadding": 15, "labels": false, "ticks": false, "domain": false, "grid": false}},
                   "x2": {"datum": {"year": 2016, "month": 6, "date": 24, "hours": 4, "minutes": 34, "seconds": 40}},
                   "y": {"datum": 0, "type": "quantitative", "scale": {"domain": [-0.6, 0.6], "nice": false}, "axis": null}}},
                {"data": {"name": "rates"}, "transform": [{"filter": "datum.e=='Brexit'"}], "mark": {"type": "line", "color": "#111", "strokeWidth": 2.5},
                 "encoding": {"x": {"field": "t", "type": "temporal", "axis": {"orient": "bottom", "values": [{"year": 2016, "month": 6, "date": 23, "hours": 23, "minutes": 15}], "labelExpr": "'6/23/16'", "title": null, "grid": false, "domain": false, "ticks": false, "labelFontSize": 13, "labelColor": "#555", "labelPadding": 32, "labelFlush": 10, "labelFlushOffset": 5}},
                   "y": {"field": "r", "type": "quantitative", "scale": {"domain": [1.3, 1.5], "nice": false, "zero": false}, "axis": null}}}
              ],
              "resolve": {"scale": {"y": "independent"}, "axis": {"x": "independent", "y": "independent"}}
            },
            {
              "width": 381, "height": 263,
              "layer": [
                {"data": {"name": "bars"}, "transform": [{"filter": "datum.e=='Brexit' && datum.s=='Hedge Funds'"}], "mark": {"type": "bar"},
                 "encoding": {
                   "x": {"field": "t", "type": "temporal", "scale": {"domain": [{"year": 2016, "month": 6, "date": 23, "hours": 23, "minutes": 11, "seconds": 50}, {"year": 2016, "month": 6, "date": 24, "hours": 4, "minutes": 34, "seconds": 40}]},
                         "axis": {"orient": "bottom", "values": [{"year": 2016, "month": 6, "date": 23, "hours": 23, "minutes": 15}, {"year": 2016, "month": 6, "date": 24, "hours": 0, "minutes": 30}, {"year": 2016, "month": 6, "date": 24, "hours": 1, "minutes": 45}, {"year": 2016, "month": 6, "date": 24, "hours": 3, "minutes": 0}, {"year": 2016, "month": 6, "date": 24, "hours": 4, "minutes": 15}], "labelExpr": "hours(datum.value) == 4 ? timeFormat(datum.value, '%-H:%M') : timeFormat(datum.value, '%H:%M')", "title": null, "grid": false, "domainColor": "#222", "domainWidth": 1.5, "tickColor": "#222", "tickSize": 6, "tickWidth": 1.2, "labelFontSize": 16, "labelColor": "#555", "labelPadding": 6, "labelFlush": 10, "labelFlushOffset": 5}},
                   "x2": {"field": "t2"},
                   "y": {"field": "v", "type": "quantitative", "scale": {"domain": [-0.6, 0.6], "nice": false},
                         "axis": {"orient": "left", "values": [-0.6, -0.4, -0.2, 0, 0.2, 0.4, 0.6], "title": null, "grid": true, "gridColor": "#e8e8e8", "ticks": false, "domain": false, "labels": false}},
                   "y2": {"datum": 0},
                   "color": {"field": "d", "type": "nominal", "scale": {"domain": ["Sell", "Buy"], "range": ["#c8453a", "#bcd977"]}, "legend": null}
                 }},
                {"data": {"values": [{}]}, "mark": {"type": "rule", "color": "#222", "strokeWidth": 1},
                 "encoding": {
                   "x": {"datum": {"year": 2016, "month": 6, "date": 23, "hours": 23, "minutes": 11, "seconds": 50}, "type": "temporal", "axis": {"orient": "top", "title": "Hedge Funds", "titleFontSize": 16, "titleFontWeight": "normal", "titleColor": "#444", "titlePadding": 15, "labels": false, "ticks": false, "domain": false, "grid": false}},
                   "x2": {"datum": {"year": 2016, "month": 6, "date": 24, "hours": 4, "minutes": 34, "seconds": 40}},
                   "y": {"datum": 0, "type": "quantitative", "scale": {"domain": [-0.6, 0.6], "nice": false}, "axis": null}}},
                {"data": {"name": "rates"}, "transform": [{"filter": "datum.e=='Brexit'"}], "mark": {"type": "line", "color": "#111", "strokeWidth": 2.5},
                 "encoding": {"x": {"field": "t", "type": "temporal", "axis": {"orient": "bottom", "values": [{"year": 2016, "month": 6, "date": 23, "hours": 23, "minutes": 15}], "labelExpr": "'6/23/16'", "title": null, "grid": false, "domain": false, "ticks": false, "labelFontSize": 13, "labelColor": "#555", "labelPadding": 32, "labelFlush": 10, "labelFlushOffset": 5}},
                   "y": {"field": "r", "type": "quantitative", "scale": {"domain": [1.3, 1.5], "nice": false, "zero": false},
                         "axis": {"orient": "right", "values": [1.3, 1.4, 1.5], "format": ".1f", "title": "GBP/USD", "grid": false, "ticks": false, "domain": false, "labelFontSize": 16, "labelColor": "#555", "labelPadding": 6, "titleFontSize": 17, "titleFontWeight": "bold", "titleColor": "#333", "titlePadding": 32}}}}
              ],
              "resolve": {"scale": {"y": "independent"}, "axis": {"x": "independent", "y": "independent"}}
            }
          ]
        }
      ]
    },
    {"width": 1360, "height": 29, "data": {"values": [{"event": "US Election"}]}, "mark": {"type": "text", "fontSize": 17, "fontWeight": "bold", "color": "#222"}, "encoding": {"text": {"field": "event"}}, "view": {"fill": "#e5e5e5", "stroke": null}},
    {
      "spacing": 0,
      "hconcat": [
        {
          "width": 93, "height": 263,
          "layer": [
            {"data": {"values": [{}]}, "mark": {"type": "rule", "opacity": 0}, "encoding": {
              "x": {"datum": 0, "type": "quantitative", "scale": {"domain": [0, 1]}, "axis": null},
              "x2": {"datum": 1},
              "y": {"datum": 0, "type": "quantitative", "scale": {"domain": [-0.6, 0.6], "nice": false},
              "axis": {"orient": "left", "offset": -93, "values": [-0.6, -0.4, -0.2, 0, 0.2, 0.4, 0.6], "labelExpr": "(datum.value < 0 ? '-' : '') + format(abs(datum.value), '~g')", "title": "(Billions USD)", "titleFontSize": 14, "titleFontWeight": "normal", "titleColor": "#555", "titlePadding": 20, "grid": false, "ticks": false, "domain": false, "labelFontSize": 16, "labelColor": "#555", "labelPadding": 2}}}},
            {"data": {"values": [{}]}, "mark": {"type": "rule", "opacity": 0}, "encoding": {
              "x": {"datum": 0, "type": "quantitative", "axis": null},
              "x2": {"datum": 1},
              "y": {"datum": 0, "type": "quantitative", "scale": {"domain": [-0.6, 0.6], "nice": false},
              "axis": {"orient": "left", "offset": -93, "title": "Scaled Net Flows", "titleFontSize": 17, "titleFontWeight": "bold", "titleColor": "#333", "titlePadding": 76, "labels": false, "ticks": false, "domain": false, "grid": false}}}}
          ],
          "resolve": {"scale": {"y": "independent"}, "axis": {"y": "independent"}}
        },
        {
          "spacing": 20,
          "hconcat": [
            {
              "width": 381, "height": 263,
              "layer": [
                {"data": {"name": "bars"}, "transform": [{"filter": "datum.e=='US' && datum.s=='Asset Managers'"}], "mark": {"type": "bar"},
                 "encoding": {
                   "x": {"field": "t", "type": "temporal", "scale": {"domain": [{"year": 2016, "month": 11, "date": 9, "hours": 0, "minutes": 57, "seconds": 30}, {"year": 2016, "month": 11, "date": 9, "hours": 5, "minutes": 2, "seconds": 40}]},
                         "axis": {"orient": "bottom", "values": [{"year": 2016, "month": 11, "date": 9, "hours": 1, "minutes": 0}, {"year": 2016, "month": 11, "date": 9, "hours": 2, "minutes": 15}, {"year": 2016, "month": 11, "date": 9, "hours": 3, "minutes": 30}, {"year": 2016, "month": 11, "date": 9, "hours": 4, "minutes": 45}], "format": "%H:%M", "title": null, "grid": false, "domainColor": "#222", "domainWidth": 1.5, "tickColor": "#222", "tickSize": 6, "tickWidth": 1.2, "labelFontSize": 16, "labelColor": "#555", "labelPadding": 6, "labelFlush": 10, "labelFlushOffset": 5}},
                   "x2": {"field": "t2"},
                   "y": {"field": "v", "type": "quantitative", "scale": {"domain": [-0.6, 0.6], "nice": false},
                         "axis": {"orient": "left", "values": [-0.6, -0.4, -0.2, 0, 0.2, 0.4, 0.6], "title": null, "grid": true, "gridColor": "#e8e8e8", "ticks": false, "domain": false, "labels": false}},
                   "y2": {"datum": 0},
                   "color": {"field": "d", "type": "nominal", "scale": {"domain": ["Sell", "Buy"], "range": ["#c8453a", "#bcd977"]}, "legend": null}
                 }},
                {"data": {"values": [{}]}, "mark": {"type": "rule", "color": "#222", "strokeWidth": 1},
                 "encoding": {
                   "x": {"datum": {"year": 2016, "month": 11, "date": 9, "hours": 0, "minutes": 57, "seconds": 30}, "type": "temporal", "axis": {"orient": "top", "title": "Asset Managers", "titleFontSize": 16, "titleFontWeight": "normal", "titleColor": "#444", "titlePadding": 15, "labels": false, "ticks": false, "domain": false, "grid": false}},
                   "x2": {"datum": {"year": 2016, "month": 11, "date": 9, "hours": 5, "minutes": 2, "seconds": 40}},
                   "y": {"datum": 0, "type": "quantitative", "scale": {"domain": [-0.6, 0.6], "nice": false}, "axis": null}}},
                {"data": {"name": "notes"}, "transform": [{"filter": "datum.e=='US'"}], "mark": {"type": "text", "align": "left", "baseline": "middle", "fontSize": 14},
                 "encoding": {"x": {"field": "t", "type": "temporal", "axis": null}, "y": {"field": "v", "type": "quantitative", "scale": {"domain": [-0.6, 0.6], "nice": false}, "axis": null}, "text": {"field": "label"}, "color": {"condition": {"test": "datum.d=='Sell'", "value": "#b5413a"}, "value": "#7f9b4a"}}},
                {"data": {"name": "rates"}, "transform": [{"filter": "datum.e=='US'"}], "mark": {"type": "line", "color": "#111", "strokeWidth": 2.5},
                 "encoding": {"x": {"field": "t", "type": "temporal", "axis": {"orient": "bottom", "values": [{"year": 2016, "month": 11, "date": 9, "hours": 1, "minutes": 0}], "labelExpr": "'11/9/16'", "title": null, "grid": false, "domain": false, "ticks": false, "labelFontSize": 13, "labelColor": "#555", "labelPadding": 32, "labelFlush": 10, "labelFlushOffset": 5}},
                   "y": {"field": "r", "type": "quantitative", "scale": {"domain": [18, 21], "nice": false, "zero": false}, "axis": null}}}
              ],
              "resolve": {"scale": {"y": "independent"}, "axis": {"x": "independent", "y": "independent"}}
            },
            {
              "width": 381, "height": 263,
              "layer": [
                {"data": {"name": "bars"}, "transform": [{"filter": "datum.e=='US' && datum.s=='Banks'"}], "mark": {"type": "bar"},
                 "encoding": {
                   "x": {"field": "t", "type": "temporal", "scale": {"domain": [{"year": 2016, "month": 11, "date": 9, "hours": 0, "minutes": 57, "seconds": 30}, {"year": 2016, "month": 11, "date": 9, "hours": 5, "minutes": 2, "seconds": 40}]},
                         "axis": {"orient": "bottom", "values": [{"year": 2016, "month": 11, "date": 9, "hours": 1, "minutes": 0}, {"year": 2016, "month": 11, "date": 9, "hours": 2, "minutes": 15}, {"year": 2016, "month": 11, "date": 9, "hours": 3, "minutes": 30}, {"year": 2016, "month": 11, "date": 9, "hours": 4, "minutes": 45}], "format": "%H:%M", "title": null, "grid": false, "domainColor": "#222", "domainWidth": 1.5, "tickColor": "#222", "tickSize": 6, "tickWidth": 1.2, "labelFontSize": 16, "labelColor": "#555", "labelPadding": 6, "labelFlush": 10, "labelFlushOffset": 5}},
                   "x2": {"field": "t2"},
                   "y": {"field": "v", "type": "quantitative", "scale": {"domain": [-0.6, 0.6], "nice": false},
                         "axis": {"orient": "left", "values": [-0.6, -0.4, -0.2, 0, 0.2, 0.4, 0.6], "title": null, "grid": true, "gridColor": "#e8e8e8", "ticks": false, "domain": false, "labels": false}},
                   "y2": {"datum": 0},
                   "color": {"field": "d", "type": "nominal", "scale": {"domain": ["Sell", "Buy"], "range": ["#c8453a", "#bcd977"]}, "legend": null}
                 }},
                {"data": {"values": [{}]}, "mark": {"type": "rule", "color": "#222", "strokeWidth": 1},
                 "encoding": {
                   "x": {"datum": {"year": 2016, "month": 11, "date": 9, "hours": 0, "minutes": 57, "seconds": 30}, "type": "temporal", "axis": {"orient": "top", "title": "Banks", "titleFontSize": 16, "titleFontWeight": "normal", "titleColor": "#444", "titlePadding": 15, "labels": false, "ticks": false, "domain": false, "grid": false}},
                   "x2": {"datum": {"year": 2016, "month": 11, "date": 9, "hours": 5, "minutes": 2, "seconds": 40}},
                   "y": {"datum": 0, "type": "quantitative", "scale": {"domain": [-0.6, 0.6], "nice": false}, "axis": null}}},
                {"data": {"name": "rates"}, "transform": [{"filter": "datum.e=='US'"}], "mark": {"type": "line", "color": "#111", "strokeWidth": 2.5},
                 "encoding": {"x": {"field": "t", "type": "temporal", "axis": {"orient": "bottom", "values": [{"year": 2016, "month": 11, "date": 9, "hours": 1, "minutes": 0}], "labelExpr": "'11/9/16'", "title": null, "grid": false, "domain": false, "ticks": false, "labelFontSize": 13, "labelColor": "#555", "labelPadding": 32, "labelFlush": 10, "labelFlushOffset": 5}},
                   "y": {"field": "r", "type": "quantitative", "scale": {"domain": [18, 21], "nice": false, "zero": false}, "axis": null}}}
              ],
              "resolve": {"scale": {"y": "independent"}, "axis": {"x": "independent", "y": "independent"}}
            },
            {
              "width": 381, "height": 263,
              "layer": [
                {"data": {"name": "bars"}, "transform": [{"filter": "datum.e=='US' && datum.s=='Hedge Funds'"}], "mark": {"type": "bar"},
                 "encoding": {
                   "x": {"field": "t", "type": "temporal", "scale": {"domain": [{"year": 2016, "month": 11, "date": 9, "hours": 0, "minutes": 57, "seconds": 30}, {"year": 2016, "month": 11, "date": 9, "hours": 5, "minutes": 2, "seconds": 40}]},
                         "axis": {"orient": "bottom", "values": [{"year": 2016, "month": 11, "date": 9, "hours": 1, "minutes": 0}, {"year": 2016, "month": 11, "date": 9, "hours": 2, "minutes": 15}, {"year": 2016, "month": 11, "date": 9, "hours": 3, "minutes": 30}, {"year": 2016, "month": 11, "date": 9, "hours": 4, "minutes": 45}], "format": "%H:%M", "title": null, "grid": false, "domainColor": "#222", "domainWidth": 1.5, "tickColor": "#222", "tickSize": 6, "tickWidth": 1.2, "labelFontSize": 16, "labelColor": "#555", "labelPadding": 6, "labelFlush": 10, "labelFlushOffset": 5}},
                   "x2": {"field": "t2"},
                   "y": {"field": "v", "type": "quantitative", "scale": {"domain": [-0.6, 0.6], "nice": false},
                         "axis": {"orient": "left", "values": [-0.6, -0.4, -0.2, 0, 0.2, 0.4, 0.6], "title": null, "grid": true, "gridColor": "#e8e8e8", "ticks": false, "domain": false, "labels": false}},
                   "y2": {"datum": 0},
                   "color": {"field": "d", "type": "nominal", "scale": {"domain": ["Sell", "Buy"], "range": ["#c8453a", "#bcd977"]}, "legend": null}
                 }},
                {"data": {"values": [{}]}, "mark": {"type": "rule", "color": "#222", "strokeWidth": 1},
                 "encoding": {
                   "x": {"datum": {"year": 2016, "month": 11, "date": 9, "hours": 0, "minutes": 57, "seconds": 30}, "type": "temporal", "axis": {"orient": "top", "title": "Hedge Funds", "titleFontSize": 16, "titleFontWeight": "normal", "titleColor": "#444", "titlePadding": 15, "labels": false, "ticks": false, "domain": false, "grid": false}},
                   "x2": {"datum": {"year": 2016, "month": 11, "date": 9, "hours": 5, "minutes": 2, "seconds": 40}},
                   "y": {"datum": 0, "type": "quantitative", "scale": {"domain": [-0.6, 0.6], "nice": false}, "axis": null}}},
                {"data": {"name": "rates"}, "transform": [{"filter": "datum.e=='US'"}], "mark": {"type": "line", "color": "#111", "strokeWidth": 2.5},
                 "encoding": {"x": {"field": "t", "type": "temporal", "axis": {"orient": "bottom", "values": [{"year": 2016, "month": 11, "date": 9, "hours": 1, "minutes": 0}], "labelExpr": "'11/9/16'", "title": null, "grid": false, "domain": false, "ticks": false, "labelFontSize": 13, "labelColor": "#555", "labelPadding": 32, "labelFlush": 10, "labelFlushOffset": 5}},
                   "y": {"field": "r", "type": "quantitative", "scale": {"domain": [18, 21], "nice": false, "zero": false},
                         "axis": {"orient": "right", "values": [18, 19, 20, 21], "format": ".1f", "title": "USD/MXN", "grid": false, "ticks": false, "domain": false, "labelFontSize": 16, "labelColor": "#555", "labelPadding": 6, "titleFontSize": 17, "titleFontWeight": "bold", "titleColor": "#333", "titlePadding": 24}}}}
              ],
              "resolve": {"scale": {"y": "independent"}, "axis": {"x": "independent", "y": "independent"}}
            }
          ]
        }
      ]
    }
  ]
}
